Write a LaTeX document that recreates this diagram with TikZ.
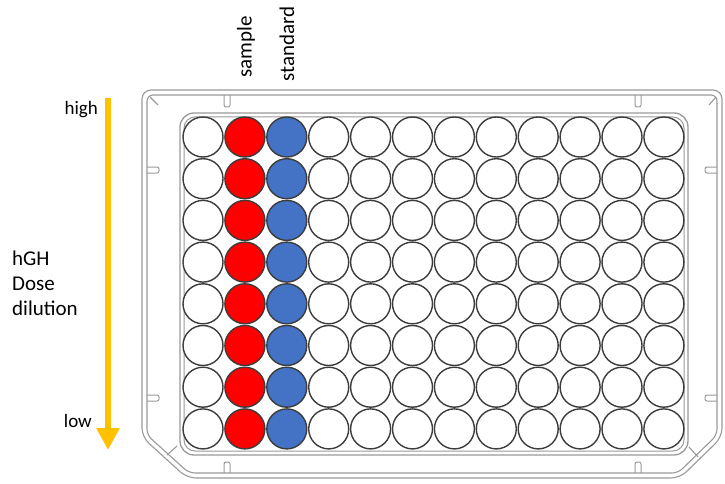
\documentclass[tikz,border=0pt]{standalone}
\usepackage{fontspec}
\setmainfont{Carlito}
\usetikzlibrary{arrows.meta}
\definecolor{arrowc}{HTML}{FFC000}
\definecolor{redw}{HTML}{FF0000}
\definecolor{bluew}{HTML}{4472C4}
\definecolor{platec}{HTML}{9A9A9A}
\definecolor{wellc}{HTML}{3C3C3C}
\tikzset{
  well/.style={circle, draw=wellc, line width=1.4pt, minimum size=40pt, inner sep=0pt, fill=white},
  lbl/.style={font=\fontsize{21}{25}\selectfont, inner sep=0pt, text=black},
  slbl/.style={font=\fontsize{19}{23}\selectfont, inner sep=0pt, text=black},
  plate/.style={draw=platec, line width=1.1pt},
  notch/.style={draw=platec, line width=1pt, rounded corners=2pt},
}
\begin{document}
\begin{tikzpicture}[x=1pt,y=-1pt]
\useasboundingbox (0,0) rectangle (725,484);
\fill[white] (0,0) rectangle (725,484);
% outer frame
\draw[plate, rounded corners=9pt] (187,478) -- (142,437) -- (142,90) -- (722,90) -- (722,437) -- (680,478) -- cycle;
\draw[plate, rounded corners=6pt] (189,473) -- (147,435) -- (147,95) -- (717,95) -- (717,435) -- (678,473) -- cycle;
% inner well area
\draw[plate, line width=1.3pt, rounded corners=14pt] (180,113) rectangle (688,455);
\draw[plate, line width=1pt, rounded corners=11pt] (184,117) rectangle (684,451);
% corner ticks
\draw[plate] (150,97) -- (158,105);
\draw[plate] (709,105) -- (716,97);
\draw[plate] (167,455) -- (177,446);
\draw[plate] (689,447) -- (698,457);
% notches
\foreach \x in {227,638}{
  \draw[notch] (\x-3,95) -- (\x-3,107) -- (\x+3,107) -- (\x+3,95);
  \draw[notch] (\x-3,473) -- (\x-3,462) -- (\x+3,462) -- (\x+3,473);
}
\foreach \y in {170,398}{
  \draw[notch] (147,\y-3) -- (159,\y-3) -- (159,\y+3) -- (147,\y+3);
  \draw[notch] (717,\y-3) -- (705,\y-3) -- (705,\y+3) -- (717,\y+3);
}
% wells
\foreach \r in {1,...,8}{
  \foreach \c in {1,...,12}{
    \pgfmathsetmacro{\wx}{203+(\c-1)*41.9}
    \pgfmathsetmacro{\wy}{137+(\r-1)*41.7}
    \ifnum\c=2
      \node[well, fill=redw] (w-\r-\c) at (\wx,\wy) {};
    \else\ifnum\c=3
      \node[well, fill=bluew] (w-\r-\c) at (\wx,\wy) {};
    \else
      \node[well] (w-\r-\c) at (\wx,\wy) {};
    \fi\fi
  }
}
% column labels
\node[lbl, rotate=90] (sample) at (246,47) {sample};
\node[lbl, rotate=90] (standard) at (287,44) {standard};
% arrow
\coordinate (atop) at (108,98);
\coordinate (abot) at (108,450);
\draw[arrowc, line width=6pt, -{Triangle[width=22pt,length=22pt]}] (atop) -- (abot);
% side labels
\node[slbl, anchor=east] (high) at (98,110) {high};
\node[slbl, anchor=east] (low) at (92,421) {low};
\node[lbl, anchor=west, align=left] (dose) at (12,283) {hGH\\Dose\\dilution};
\end{tikzpicture}
\end{document}
